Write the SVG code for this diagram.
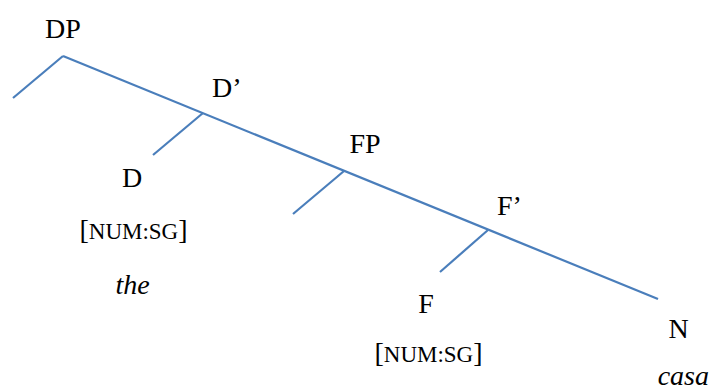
<svg xmlns="http://www.w3.org/2000/svg" width="712" height="392" viewBox="0 0 712 392">
<style>
.t{font-size:28px;fill:#000}
.m{text-anchor:middle}
.sc{font-size:23px}
.i{font-style:italic}
.e{stroke:#4A7EBB;stroke-width:2.2;fill:none;stroke-linecap:butt}
</style>
<rect width="712" height="392" fill="#fff"/>
<g id="connectors">
<line class="e" x1="63" y1="56" x2="658" y2="299"/>
<line class="e" x1="63" y1="56" x2="13" y2="98"/>
<line class="e" x1="203" y1="113" x2="153" y2="155"/>
<line class="e" x1="344" y1="171" x2="293" y2="214"/>
<line class="e" x1="488" y1="230" x2="440" y2="272"/>
</g>
<g font-family="'Liberation Serif', 'DejaVu Serif', 'Times New Roman', serif">
<g id="DP"><text class="t m" x="63" y="38">DP</text></g>
<g id="Dbar"><text class="t" x="212" y="97">D’</text></g>
<g id="D"><text class="t m" x="132" y="187">D</text>
<text class="t m" x="133.5" y="239">[<tspan class="sc">NUM:SG</tspan>]</text>
<text class="t i m" x="132.5" y="294">the</text></g>
<g id="FP"><text class="t m" x="365" y="153">FP</text></g>
<g id="Fbar"><text class="t" x="497" y="215">F’</text></g>
<g id="F"><text class="t m" x="426" y="313">F</text>
<text class="t m" x="428.5" y="362">[<tspan class="sc">NUM:SG</tspan>]</text></g>
<g id="N"><text class="t m" x="678.5" y="338">N</text>
<text class="t i" text-anchor="end" x="709" y="385">casa</text></g>
</g>
</svg>
